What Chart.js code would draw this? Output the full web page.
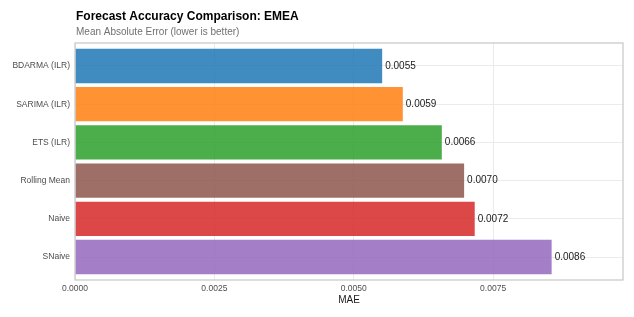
<!DOCTYPE html>
<html>
<head>
<meta charset="utf-8">
<title>Forecast Accuracy Comparison: EMEA</title>
<script src="https://cdn.jsdelivr.net/npm/chart.js@4.4.1/dist/chart.umd.min.js"></script>
<style>
  html, body { margin: 0; padding: 0; background: #fff; }
  #wrap { width: 634px; height: 317px; }
</style>
</head>
<body>
<div id="wrap"><canvas id="maeChart" width="634" height="317"></canvas></div>
<script>
// data
const methods = ['BDARMA (ILR)', 'SARIMA (ILR)', 'ETS (ILR)', 'Rolling Mean', 'Naive', 'SNaive'];
const mae = [0.00551, 0.00588, 0.00658, 0.00698, 0.00717, 0.00855];
const xTicks = [0, 0.0025, 0.005, 0.0075];
const barColors = [
  'rgba(31,119,180,0.85)',
  'rgba(255,127,14,0.85)',
  'rgba(44,160,44,0.85)',
  'rgba(140,86,75,0.85)',
  'rgba(214,39,40,0.85)',
  'rgba(148,103,189,0.85)'
];
const titleText = 'Forecast Accuracy Comparison: EMEA';
const subtitleText = 'Mean Absolute Error (lower is better)';

const FONT = '"Liberation Sans", Arial, Helvetica, sans-serif';

// titel + subtitle, panel border and value labels
const decorPlugin = {
  id: 'decor',
  afterDatasetsDraw(chart) {
    const ctx = chart.ctx;
    const area = chart.chartArea;
    const meta = chart.getDatasetMeta(0);

    ctx.save();
    ctx.strokeStyle = '#c6c6c6';
    ctx.lineWidth = 1.2;
    ctx.strokeRect(area.left, area.top, area.right - area.left, area.bottom - area.top);

    ctx.fillStyle = '#1a1a1a';
    ctx.font = '10px ' + FONT;
    ctx.textAlign = 'left';
    ctx.textBaseline = 'middle';
    meta.data.forEach((bar, i) => {
      ctx.fillText(mae[i].toFixed(4), bar.x + 3, bar.y);
    });
    ctx.restore();
  },
  afterDraw(chart) {
    const ctx = chart.ctx;
    const left = chart.chartArea.left + 1;
    ctx.save();
    ctx.textAlign = 'left';
    ctx.textBaseline = 'alphabetic';
    ctx.fillStyle = '#000';
    ctx.font = 'bold 12px ' + FONT;
    ctx.fillText(titleText, left, 20);
    ctx.fillStyle = '#707070';
    ctx.font = '10px ' + FONT;
    ctx.fillText(subtitleText, left, 34.5);
    ctx.restore();
  }
};

new Chart(document.getElementById('maeChart'), {
  type: 'bar',
  data: {
    datasets: [{
      data: methods.map((m, i) => ({ x: mae[i], y: i + 1 })),
      backgroundColor: barColors,
      borderWidth: 0,
      categoryPercentage: 1,
      barPercentage: 0.9
    }]
  },
  options: {
    indexAxis: 'y',
    responsive: false,
    animation: false,
    layout: { padding: { top: 43, right: 11, left: 0, bottom: 0 } },
    plugins: {
      legend: { display: false },
      tooltip: { enabled: false }
    },
    scales: {
      x: {
        type: 'linear',
        min: 0,
        max: 0.00983,
        afterBuildTicks: s => { s.ticks = xTicks.map(v => ({ value: v })); },
        afterFit: s => { s.height = 37; },
        grid: { color: '#ebebeb', drawTicks: false },
        border: { display: false },
        ticks: {
          padding: 4,
          color: '#4d4d4d',
          font: { family: FONT, size: 8.5 },
          callback: v => v.toFixed(4)
        },
        title: {
          display: true,
          text: 'MAE',
          color: '#1a1a1a',
          font: { family: FONT, size: 10 },
          padding: { top: 0, bottom: 11 }
        }
      },
      y: {
        type: 'linear',
        min: 0.4,
        max: 6.6,
        reverse: true,
        offset: false,
        afterBuildTicks: s => { s.ticks = methods.map((m, i) => ({ value: i + 1 })); },
        afterFit: s => { s.width = 75; },
        grid: { color: '#ebebeb', drawTicks: false, offset: false },
        border: { display: false },
        ticks: {
          padding: 5,
          color: '#4d4d4d',
          font: { family: FONT, size: 8.5 },
          callback: v => methods[v - 1]
        }
      }
    }
  },
  plugins: [decorPlugin]
});
</script>
</body>
</html>
